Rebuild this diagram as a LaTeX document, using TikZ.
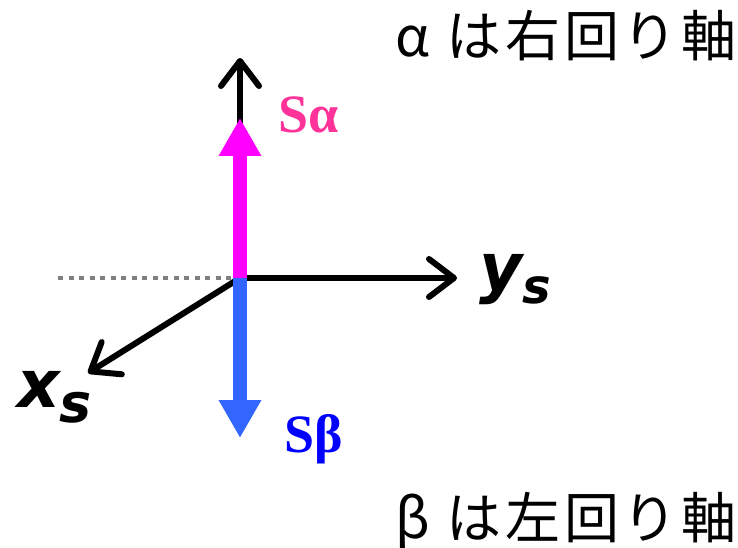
\documentclass[tikz,border=0pt]{standalone}
\usepackage{fontspec}
\setmainfont{Liberation Serif}
\newfontfamily\jpfont[LetterSpace=7]{Noto Sans CJK JP}
\newfontfamily\axisfont{DejaVu Sans}
\usetikzlibrary{arrows.meta, positioning}
\definecolor{upcol}{RGB}{255,0,255}
\definecolor{uptext}{RGB}{255,51,153}
\definecolor{downcol}{RGB}{51,102,255}
\definecolor{downtext}{RGB}{0,0,255}
\definecolor{hidden}{RGB}{128,128,128}

\begin{document}
\begin{tikzpicture}[x=1pt, y=-1pt,
    axis/.style={line width=6pt, -{Straight Barb[length=25pt, width=38pt, round]}},
    spin/.style={line width=14pt, -{Triangle[length=38pt, width=40pt]}},
    spinlabel/.style={anchor=base west, inner sep=0pt, font=\bfseries\fontsize{54}{54}\selectfont},
    axlabel/.style={anchor=base west, inner sep=0pt, font=\axisfont\bfseries\itshape\fontsize{66}{66}\selectfont},
    note/.style={anchor=base east, inner sep=0pt, font=\jpfont\fontsize{55}{55}\selectfont}]
  \useasboundingbox (0,0) rectangle (738,548);

  \coordinate (O) at (240,278);
  \coordinate (ztip) at (240,58);
  \coordinate (ytip) at (457,278);
  \coordinate (xtip) at (88,373);
  \coordinate (dotend) at (58,278);
  \coordinate (atip) at (240,118);
  \coordinate (btip) at (240,438);

  % hidden part of the y axis
  \draw[hidden, line width=4.5pt, dash pattern=on 5pt off 5.5pt] (dotend) -- (O);

  \draw[axis] (O) -- (ztip);
  \draw[axis] (O) -- (ytip);
  \draw[axis] (O) -- (xtip);

  \draw[spin, upcol] (O) -- (atip);
  \draw[spin, downcol] (O) -- (btip);

  \node[spinlabel, uptext] (alab) at (278,133) {Sα};
  \node[spinlabel, downtext] (blab) at (284,452) {Sβ};

  \node[axlabel] (ylab) at (479,290) {y\raisebox{-13pt}{\fontsize{48}{48}\selectfont s}};
  \node[axlabel] (xlab) at (17,407) {x\raisebox{-15pt}{\fontsize{54}{54}\selectfont s}};

  \node[note] (anote) at (737,57) {α は右回り軸};
  \node[note] (bnote) at (737,538) {β は左回り軸};
\end{tikzpicture}
\end{document}
